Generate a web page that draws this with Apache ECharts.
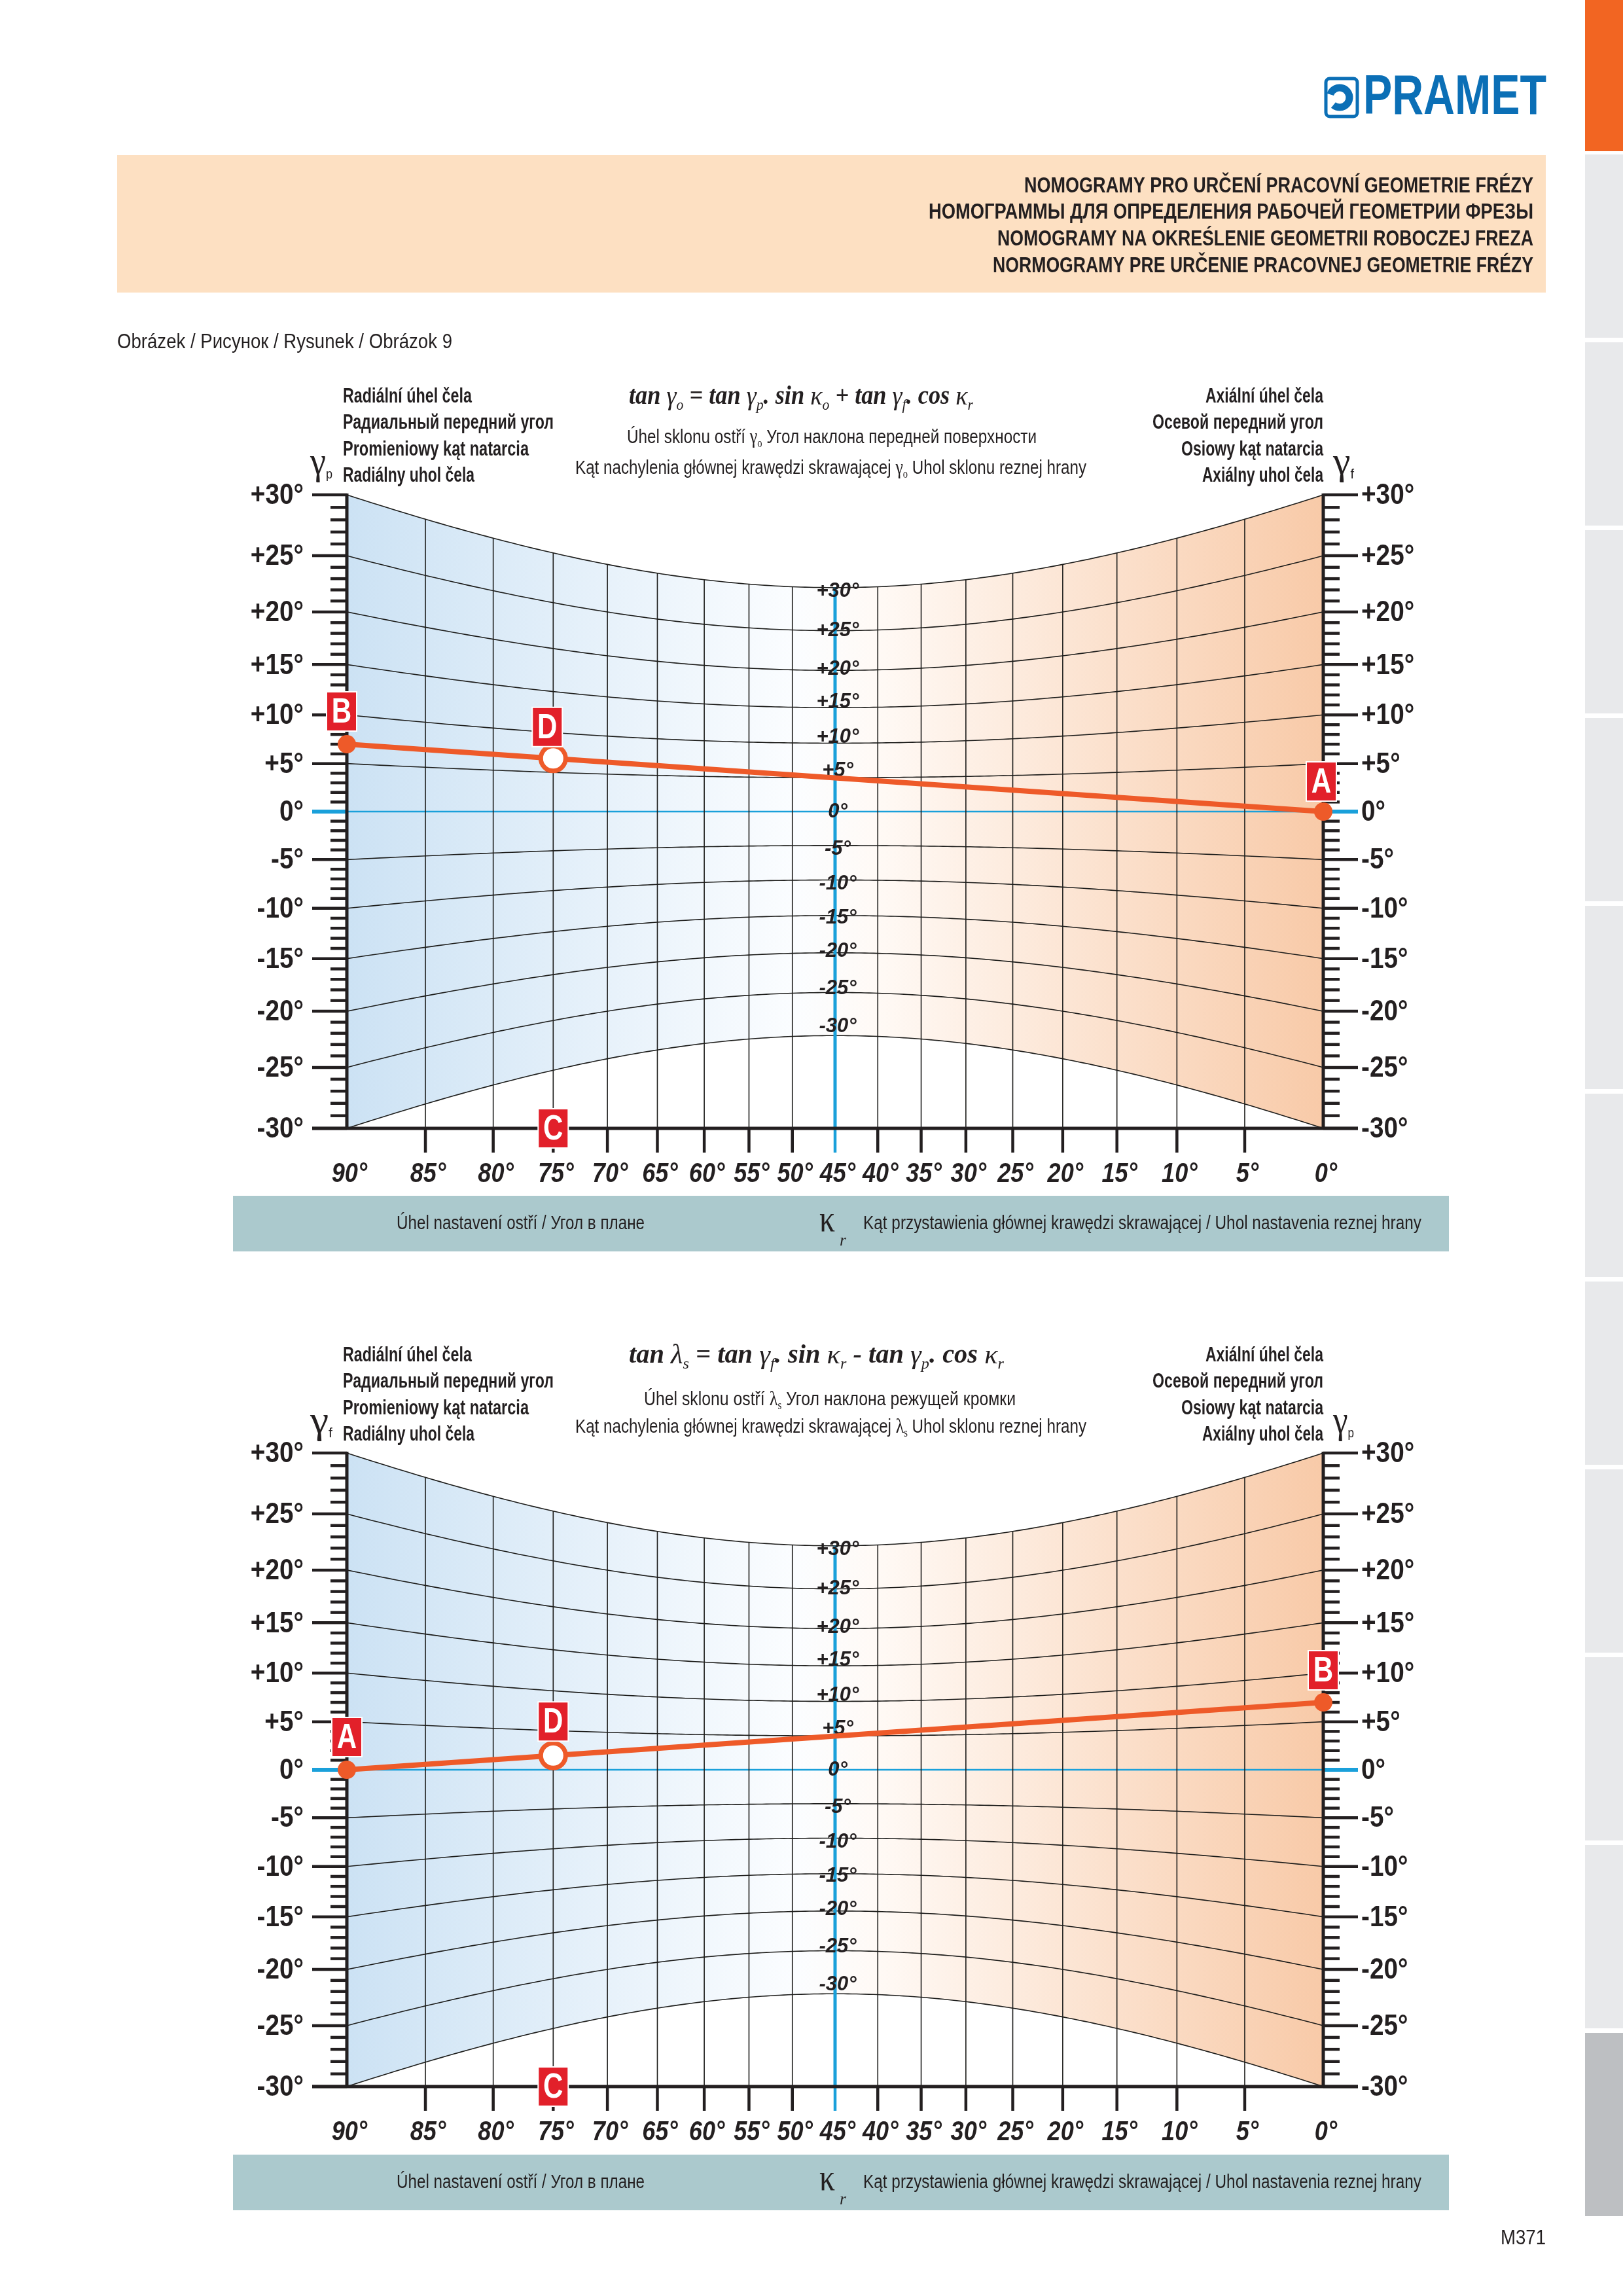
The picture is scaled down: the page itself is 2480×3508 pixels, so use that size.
<!DOCTYPE html>
<html>
<head>
<meta charset="utf-8">
<script src="https://cdn.jsdelivr.net/npm/echarts@6/dist/echarts.min.js"></script>
<style>
  html, body { margin: 0; padding: 0; background: #fff; }
  #page { width: 2480px; height: 3508px; }
</style>
</head>
<body>
<div id="page"></div>
<script>
// κr scale along the bottom of both nomograms
const kappaTicks = [90, 85, 80, 75, 70, 65, 60, 55, 50, 45, 40, 35, 30, 25, 20, 15, 10, 5, 0];
const kappaLabels = ['90°', '85°', '80°', '75°', '70°', '65°', '60°', '55°', '50°', '45°', '40°', '35°', '30°', '25°', '20°', '15°', '10°', '5°', '0°'];
// rake angle scale (side axes and the curved centre scale)
const gammaTicks = [30, 25, 20, 15, 10, 5, 0, -5, -10, -15, -20, -25, -30];
const gammaLabels = ['+30°', '+25°', '+20°', '+15°', '+10°', '+5°', '0°', '-5°', '-10°', '-15°', '-20°', '-25°', '-30°'];
// worked example: [left axis, right axis] in degrees, and κr of D / C
const readingTop = [7, 0];
const readingBottom = [0, 7];
const readingKappa = [75];
const lettersTop = ['B', 'A', 'D', 'C'];
const lettersBottom = ['A', 'B', 'D', 'C'];

const INK = '#231f20', BLUE = '#1aa0da', RED = '#ee5a29', BOX = '#e2202a';
const rad = d => d * Math.PI / 180;
const T30 = Math.tan(rad(30));
// position of a κr line across the nomogram (0 = left axis, 1 = right axis)
const tk = k => Math.cos(rad(k)) / (Math.sin(rad(k)) + Math.cos(rad(k)));
// height of a rake-angle curve at a given κr
const yg = (g, k) => Math.tan(rad(g)) / (Math.sin(rad(k)) + Math.cos(rad(k)));
// small vertical nudges of the centre labels, as printed
const centreNudge = { 30: 6, 25: 0, 20: -2, 15: -9, 10: -9, 5: -11, 0: 0, '-5': 6, '-10': 6, '-15': 4, '-20': -2, '-25': -6, '-30': -14 };

// text helpers
const mctx = document.createElement('canvas').getContext('2d');
function fstr(f) {
  return (f.fontStyle || 'normal') + ' ' + (f.fontWeight || 'normal') + ' ' + f.fontSize + 'px "' + f.fontFamily + '"';
}
function textW(t, f) { mctx.font = fstr(f); return mctx.measureText(t).width; }
function label(text, x, y, f, o) {
  o = o || {};
  const sx = o.width ? o.width / textW(text, f) : (o.sx || 1);
  const al = o.align || 'left';
  return {
    type: 'text', x: x, y: y, scaleX: sx, z: o.z || 50, silent: true,
    style: {
      text: text, fontFamily: f.fontFamily, fontSize: f.fontSize,
      fontWeight: f.fontWeight || 'normal', fontStyle: f.fontStyle || 'normal',
      fill: o.color || INK, align: al, textAlign: al,
      verticalAlign: 'middle', textVerticalAlign: 'middle'
    }
  };
}
function run(x, y, parts, width, align) {
  const ws = parts.map(p => textW(p.t, p.f));
  const total = ws.reduce((a, b) => a + b, 0);
  const s = width / total;
  let cx = align === 'center' ? x - width / 2 : x;
  return parts.map((p, i) => {
    const el = label(p.t, cx, y + (p.dy || 0), p.f, { sx: s, color: p.c });
    cx += ws[i] * s;
    return el;
  });
}

const F = {
  title: { fontFamily: 'Liberation Sans', fontWeight: 'bold', fontSize: 33 },
  body: { fontFamily: 'Liberation Sans', fontSize: 31 },
  bold: { fontFamily: 'Liberation Sans', fontWeight: 'bold', fontSize: 32 },
  band: { fontFamily: 'Liberation Sans', fontSize: 30 },
  math: { fontFamily: 'Liberation Serif', fontWeight: 'bold', fontStyle: 'italic', fontSize: 40 },
  greek: { fontFamily: 'Liberation Serif', fontStyle: 'italic', fontSize: 42 },
  sub: { fontFamily: 'Liberation Serif', fontStyle: 'italic', fontSize: 24 },
  sgreek: { fontFamily: 'Liberation Serif', fontSize: 32 },
  ssub: { fontFamily: 'Liberation Serif', fontSize: 18 },
  sym: { fontFamily: 'Liberation Serif', fontSize: 60 },
  symSub: { fontFamily: 'Liberation Sans', fontSize: 20 },
  side: { fontFamily: 'Liberation Sans', fontWeight: 'bold', fontSize: 44 },
  kappa: { fontFamily: 'Liberation Sans', fontWeight: 'bold', fontStyle: 'italic', fontSize: 43 },
  centre: { fontFamily: 'Liberation Sans', fontWeight: 'bold', fontStyle: 'italic', fontSize: 31 },
  letter: { fontFamily: 'Liberation Sans', fontWeight: 'bold', fontSize: 54 },
  page: { fontFamily: 'Liberation Sans', fontSize: 32 }
};

function nomogram(gi, reading, letters, offsets) {
  const ax = { coordinateSystem: 'cartesian2d', xAxisIndex: gi, yAxisIndex: gi, silent: true, animation: false };
  const yL = Math.tan(rad(reading[0])), yR = Math.tan(rad(reading[1]));
  const tD = tk(readingKappa[0]);
  const yD = yL + (yR - yL) * tD;
  const marks = [[0, yL], [1, yR], [tD, yD], [tD, -T30]];
  return [
    // shaded field
    Object.assign({}, ax, {
      type: 'custom', z: 1, data: [[0, 0]],
      renderItem: (p, api) => {
        const pts = [];
        for (let k = 90; k >= 0; k -= 0.5) pts.push(api.coord([tk(k), yg(30, k)]));
        for (let k = 0; k <= 90; k += 0.5) pts.push(api.coord([tk(k), yg(-30, k)]));
        return {
          type: 'polygon', shape: { points: pts },
          style: {
            fill: new echarts.graphic.LinearGradient(0, 0, 1, 0, [
              { offset: 0, color: '#cce2f4' }, { offset: 0.46, color: '#fbfdff' },
              { offset: 0.54, color: '#fffaf6' }, { offset: 1, color: '#f8caa8' }
            ])
          }
        };
      }
    }),
    // rake angle curves
    Object.assign({}, ax, {
      type: 'custom', z: 2, data: gammaTicks.map(g => [g, 0]),
      renderItem: (p, api) => {
        const g = api.value(0);
        const pts = [];
        for (let k = 90; k >= 0; k -= 0.5) pts.push(api.coord([tk(k), yg(g, k)]));
        return {
          type: 'polyline', shape: { points: pts },
          style: { stroke: g === 0 ? BLUE : '#1d1d1b', lineWidth: g === 0 ? 2.5 : 1.6, fill: null }
        };
      }
    }),
    // κr lines, ticks and labels
    Object.assign({}, ax, {
      type: 'custom', z: 3, data: kappaTicks.map(k => [k, 0]),
      renderItem: (p, api) => {
        const k = api.value(0);
        const top = api.coord([tk(k), yg(30, k)]);
        const base = api.coord([tk(k), -T30]);
        const kids = [label(kappaLabels[p.dataIndex], base[0] + 4, base[1] + 70, F.kappa, { align: 'center', sx: 0.84 })];
        if (k !== 90 && k !== 0) {
          const c = k === 45 ? BLUE : '#1d1d1b';
          kids.push({ type: 'line', shape: { x1: top[0], y1: top[1], x2: base[0], y2: base[1] }, style: { stroke: c, lineWidth: k === 45 ? 5 : 1.6 } });
          kids.push({ type: 'line', shape: { x1: base[0], y1: base[1], x2: base[0], y2: base[1] + 37 }, style: { stroke: k === 45 ? BLUE : INK, lineWidth: 4.5 } });
        }
        return { type: 'group', children: kids };
      }
    }),
    // side axes: degree ticks and labels
    Object.assign({}, ax, {
      type: 'custom', z: 4, data: Array.from({ length: 61 }, (v, i) => [i - 30, 0]),
      renderItem: (p, api) => {
        const d = api.value(0);
        const v = Math.tan(rad(d));
        const L = api.coord([0, v]), R = api.coord([1, v]);
        const major = d % 5 === 0;
        const len = major ? 53 : 25;
        const c = d === 0 ? BLUE : INK;
        const w = d === 0 ? 6 : 4.5;
        const kids = [
          { type: 'line', shape: { x1: L[0] - len, y1: L[1], x2: L[0], y2: L[1] }, style: { stroke: c, lineWidth: w } },
          { type: 'line', shape: { x1: R[0], y1: R[1], x2: R[0] + len, y2: R[1] }, style: { stroke: c, lineWidth: w } }
        ];
        if (major) {
          const txt = gammaLabels[gammaTicks.indexOf(d)];
          kids.push(label(txt, L[0] - 66, L[1] + 2, F.side, { align: 'right', sx: 0.88 }));
          kids.push(label(txt, R[0] + 58, R[1] + 2, F.side, { align: 'left', sx: 0.88 }));
        }
        return { type: 'group', children: kids };
      }
    }),
    // axis lines and base line
    Object.assign({}, ax, {
      type: 'custom', z: 4, data: [[0, 0]],
      renderItem: (p, api) => {
        const TL = api.coord([0, T30]), BL = api.coord([0, -T30]);
        const TR = api.coord([1, T30]), BR = api.coord([1, -T30]);
        const st = { stroke: INK, lineWidth: 5 };
        return {
          type: 'group', children: [
            { type: 'line', shape: { x1: TL[0], y1: TL[1] - 2, x2: BL[0], y2: BL[1] }, style: st },
            { type: 'line', shape: { x1: TR[0], y1: TR[1] - 2, x2: BR[0], y2: BR[1] }, style: st },
            { type: 'line', shape: { x1: BL[0] - 53, y1: BL[1], x2: BR[0] + 53, y2: BR[1] }, style: st }
          ]
        };
      }
    }),
    // centre scale labels
    Object.assign({}, ax, {
      type: 'custom', z: 6, data: gammaTicks.map(g => [g, 0]),
      renderItem: (p, api) => {
        const g = api.value(0);
        const c = api.coord([0.5, yg(g, 45)]);
        return label(gammaLabels[p.dataIndex], c[0] + 4, c[1] + (centreNudge[g] || 0), F.centre, { align: 'center' });
      }
    }),
    // worked example line
    {
      type: 'line', xAxisIndex: gi, yAxisIndex: gi, z: 7, silent: true, animation: false,
      data: [[0, yL], [1, yR]], symbol: 'none', lineStyle: { color: RED, width: 8 }
    },
    {
      type: 'scatter', xAxisIndex: gi, yAxisIndex: gi, z: 8, silent: true, animation: false,
      data: [[0, yL], [1, yR]], symbolSize: 28, itemStyle: { color: RED, opacity: 1 }
    },
    {
      type: 'scatter', xAxisIndex: gi, yAxisIndex: gi, z: 8, silent: true, animation: false,
      data: [[tD, yD]], symbolSize: 38, itemStyle: { color: '#fff', borderColor: RED, borderWidth: 7, opacity: 1 }
    },
    // letter boxes
    Object.assign({}, ax, {
      type: 'custom', z: 9, data: marks,
      renderItem: (p, api) => {
        const c = api.coord([api.value(0), api.value(1)]);
        const o = offsets[p.dataIndex];
        const x = c[0] + o[0], y = c[1] + o[1];
        return {
          type: 'group', children: [
            { type: 'rect', shape: { x: x - 23, y: y - 30, width: 46, height: 60 }, style: { fill: BOX, stroke: '#fff', lineWidth: 2 } },
            label(letters[p.dataIndex], x, y + 2, F.letter, { align: 'center', sx: 0.78, color: '#fff' })
          ]
        };
      }
    })
  ];
}

// page furniture
const G = [];
G.push({ type: 'rect', shape: { x: 2422, y: 0, width: 58, height: 231 }, style: { fill: '#f26522' } });
for (let i = 0; i < 11; i++) {
  G.push({ type: 'rect', shape: { x: 2422, y: 236 + 287 * i, width: 58, height: 280 }, style: { fill: i === 10 ? '#bdbfc2' : '#e8e9eb' } });
}
// logo
G.push({ type: 'rect', shape: { x: 2026, y: 120, width: 48, height: 58, r: 6 }, style: { fill: '#fff', stroke: '#0b6fb6', lineWidth: 5 } });
G.push({ type: 'arc', shape: { cx: 2047, cy: 149, r: 15, startAngle: Math.PI * 1.1, endAngle: Math.PI * 2.72, clockwise: true }, style: { stroke: '#0b6fb6', lineWidth: 11, fill: null } });
G.push(label('PRAMET', 2083, 150, { fontFamily: 'Liberation Sans', fontWeight: 'bold', fontSize: 86 }, { width: 280, color: '#0b6fb6' }));
// header
G.push({ type: 'rect', shape: { x: 179, y: 237, width: 2183, height: 210 }, style: { fill: '#fde0c2' } });
G.push(label('NOMOGRAMY PRO URČENÍ PRACOVNÍ GEOMETRIE FRÉZY', 2343, 285, F.title, { align: 'right', width: 778 }));
G.push(label('НОМОГРАММЫ ДЛЯ ОПРЕДЕЛЕНИЯ РАБОЧЕЙ ГЕОМЕТРИИ ФРЕЗЫ', 2343, 325, F.title, { align: 'right', width: 924 }));
G.push(label('NOMOGRAMY NA OKREŚLENIE GEOMETRII ROBOCZEJ FREZA', 2343, 366, F.title, { align: 'right', width: 819 }));
G.push(label('NORMOGRAMY PRE URČENIE PRACOVNEJ GEOMETRIE FRÉZY', 2343, 407, F.title, { align: 'right', width: 826 }));
G.push(label('Obrázek / Рисунок / Rysunek / Obrázok 9', 179, 523, F.body, { width: 512 }));
G.push(label('M371', 2362, 3420, F.page, { align: 'right', width: 69 }));

function headerBlock(dy, left, right, formula, fWidth, sub1, sub2, symL, symR) {
  const lw = [197, 322, 284, 201], rw = [180, 261, 217, 185];
  const ys = [606, 646, 687, 727];
  left.forEach((t, i) => G.push(label(t, 524, ys[i] + dy, F.bold, { width: lw[i] })));
  right.forEach((t, i) => G.push(label(t, 2022, ys[i] + dy, F.bold, { align: 'right', width: rw[i] })));
  run(961, 607 + dy, formula, fWidth).forEach(e => G.push(e));
  run(sub1.x, 669 + dy + (sub1.dy || 0), sub1.parts, sub1.w).forEach(e => G.push(e));
  run(879, 716 + dy, sub2, 781).forEach(e => G.push(e));
  run(474, 708 + dy, symL, 34).forEach(e => G.push(e));
  run(2037, 708 + dy, symR, 32).forEach(e => G.push(e));
}
const m = (t) => ({ t: t, f: F.math });
const gk = (t) => ({ t: t, f: F.greek });
const sb = (t) => ({ t: t, f: F.sub, dy: 13 });
const tx = (t) => ({ t: t, f: F.band });
const sg = (t) => ({ t: t, f: F.sgreek });
const ss = (t) => ({ t: t, f: F.ssub, dy: 9 });
const symbol = (g, s) => [{ t: g, f: F.sym }, { t: s, f: F.symSub, dy: 17 }];

const leftNames = ['Radiální úhel čela', 'Радиальный передний угол', 'Promieniowy kąt natarcia', 'Radiálny uhol čela'];
const rightNames = ['Axiální úhel čela', 'Осевой передний угол', 'Osiowy kąt natarcia', 'Axiálny uhol čela'];

headerBlock(0, leftNames, rightNames,
  [m('tan '), gk('γ'), sb('o'), m(' = tan '), gk('γ'), sb('p'), m('. sin '), gk('κ'), sb('o'), m(' + tan '), gk('γ'), sb('f'), m('. cos '), gk('κ'), sb('r')], 526,
  { x: 958, w: 626, parts: [tx('Úhel sklonu ostří '), sg('γ'), ss('o'), tx(' Угол наклона передней поверхности')] },
  [tx('Kąt nachylenia głównej krawędzi skrawającej '), sg('γ'), ss('o'), tx(' Uhol sklonu reznej hrany')],
  symbol('γ', 'p'), symbol('γ', 'f'));
headerBlock(1465, leftNames, rightNames,
  [m('tan '), gk('λ'), sb('s'), m(' = tan '), gk('γ'), sb('f'), m('. sin '), gk('κ'), sb('r'), m(' - tan '), gk('γ'), sb('p'), m('. cos '), gk('κ'), sb('r')], 573,
  { x: 984, w: 568, dy: 5, parts: [tx('Úhel sklonu ostří '), sg('λ'), ss('s'), tx(' Угол наклона режущей кромки')] },
  [tx('Kąt nachylenia głównej krawędzi skrawającej '), sg('λ'), ss('s'), tx(' Uhol sklonu reznej hrany')],
  symbol('γ', 'f'), symbol('γ', 'p'));

[0, 1465].forEach(dy => {
  G.push({ type: 'rect', shape: { x: 356, y: 1827 + dy, width: 1858, height: 85 }, style: { fill: '#abc9cd' } });
  G.push(label('Úhel nastavení ostří / Угол в плане', 606, 1870 + dy, F.band, { width: 379 }));
  G.push(label('κ', 1252, 1866 + dy, { fontFamily: 'Liberation Serif', fontSize: 58 }, { sx: 0.82 }));
  G.push(label('r', 1283, 1896 + dy, { fontFamily: 'Liberation Serif', fontStyle: 'italic', fontSize: 26 }, {}));
  G.push(label('Kąt przystawienia głównej krawędzi skrawającej / Uhol nastavenia reznej hrany', 1319, 1870 + dy, F.band, { width: 853 }));
});

const chart = echarts.init(document.getElementById('page'), null, { renderer: 'canvas', width: 2480, height: 3508 });
chart.setOption({
  animation: false,
  backgroundColor: '#ffffff',
  grid: [
    { left: 530, top: 756, width: 1492, height: 968 },
    { left: 530, top: 2220, width: 1492, height: 968 }
  ],
  xAxis: [0, 1].map(i => ({ gridIndex: i, type: 'value', min: 0, max: 1, show: false })),
  yAxis: [0, 1].map(i => ({ gridIndex: i, type: 'value', min: -T30, max: T30, show: false })),
  graphic: { elements: G },
  series: [].concat(
    nomogram(0, readingTop, lettersTop, [[-8, -50], [-3, -46], [-9, -48], [0, 0]]),
    nomogram(1, readingBottom, lettersBottom, [[0, -50], [0, -49], [0, -52], [0, 0]])
  )
});
</script>
</body>
</html>
